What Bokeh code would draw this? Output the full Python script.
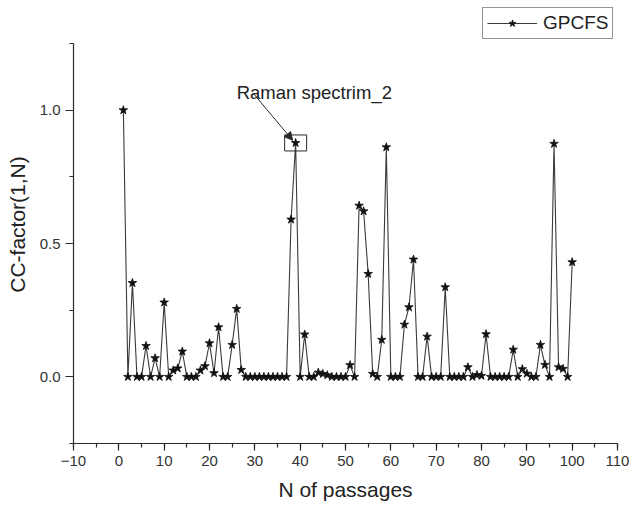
from bokeh.plotting import figure
from bokeh.models import (Range1d, SingleIntervalTicker, PrintfTickFormatter, Legend,
                          LegendItem, Arrow, NormalHead, Label)
from bokeh.embed import file_html
from bokeh.resources import INLINE

# ---- data ----
passages = list(range(1, 101))
cc_factor = [
    1.0, 0.0, 0.352, 0.0, 0.0, 0.116, 0.0, 0.07, 0.0, 0.279,
    0.0, 0.024, 0.032, 0.095, 0.0, 0.0, 0.0, 0.024, 0.04, 0.126,
    0.014, 0.186, 0.0, 0.0, 0.12, 0.255, 0.026, 0.0, 0.0, 0.0,
    0.0, 0.0, 0.0, 0.0, 0.0, 0.0, 0.0, 0.59, 0.877, 0.0,
    0.159, 0.0, 0.0, 0.016, 0.011, 0.006, 0.0, 0.0, 0.0, 0.0,
    0.044, 0.0, 0.642, 0.621, 0.386, 0.011, 0.0, 0.139, 0.861, 0.0,
    0.0, 0.0, 0.196, 0.261, 0.44, 0.0, 0.0, 0.151, 0.0, 0.0,
    0.0, 0.336, 0.0, 0.0, 0.0, 0.0, 0.036, 0.0, 0.007, 0.004,
    0.16, 0.0, 0.0, 0.0, 0.0, 0.0, 0.102, 0.0, 0.029, 0.012,
    0.0, 0.0, 0.12, 0.045, 0.0, 0.874, 0.036, 0.03, 0.0, 0.43,
]
series_name = "GPCFS"
x_label = "N of passages"
y_label = "CC-factor(1,N)"
note_text = "Raman spectrim_2"
note_index = 39  # highlighted passage
y_axis_bounds = (-0.25, 1.25)

FONT = "Liberation Sans"
INK = "#2a2a2a"

# frame extends above the y axis so the legend can sit over it
p = figure(width=630, height=508, output_backend="svg", toolbar_location=None,
           x_range=Range1d(-10, 110), y_range=Range1d(-0.25, 1.3925),
           min_border_left=73, min_border_right=13, min_border_top=5,
           min_border_bottom=65)
p.outline_line_color = None
p.grid.visible = False
p.background_fill_color = "white"
p.border_fill_color = "white"

ln = p.line(passages, cc_factor, line_color="#3a3a3a", line_width=1.1)
sc = p.scatter(passages, cc_factor, marker="star", size=9,
               fill_color="#111111", line_color="#111111", line_width=0.8)

# axes
for ax in (p.xaxis[0], p.yaxis[0]):
    ax.axis_line_color = INK
    ax.axis_line_width = 1.2
    ax.major_tick_line_color = INK
    ax.minor_tick_line_color = INK
    ax.major_tick_line_width = 1.2
    ax.minor_tick_line_width = 1.2
    ax.major_tick_in = 0
    ax.minor_tick_in = 0
    ax.major_label_text_font = FONT
    ax.major_label_text_font_size = "15px"
    ax.major_label_text_color = "#333333"
    ax.axis_label_text_font = FONT
    ax.axis_label_text_font_size = "21px"
    ax.axis_label_text_font_style = "normal"
    ax.axis_label_text_color = "#222222"

p.yaxis.bounds = y_axis_bounds
p.xaxis.ticker = SingleIntervalTicker(interval=10, num_minor_ticks=2)
p.yaxis.ticker = SingleIntervalTicker(interval=0.5, num_minor_ticks=2)
p.yaxis.formatter = PrintfTickFormatter(format="%.1f")
p.xaxis.major_tick_out = 7
p.xaxis.minor_tick_out = 4
p.yaxis.major_tick_out = 8
p.yaxis.minor_tick_out = 4
p.xaxis.major_label_standoff = 5
p.yaxis.major_label_standoff = 5
p.xaxis.axis_label = x_label
p.yaxis.axis_label = y_label
p.xaxis.axis_label_standoff = 9
p.yaxis.axis_label_standoff = 8

# annotation: box around highlighted point, arrow and text
hx = passages[note_index - 1]
hy = cc_factor[note_index - 1]
p.rect(x=[hx], y=[hy], width=22, height=16, width_units="screen",
       height_units="screen", fill_color=None, line_color=INK, line_width=1)
p.add_layout(Arrow(end=NormalHead(size=8, fill_color=INK, line_color=INK),
                   x_start=hx - 9.3, y_start=hy + 0.185,
                   x_end=hx - 0.65, y_end=hy + 0.01,
                   line_color=INK, line_width=1))
p.add_layout(Label(x=hx - 13.0, y=hy + 0.19, text=note_text,
                   text_font=FONT, text_font_size="18.5px", text_color="#222222",
                   text_baseline="alphabetic"))

legend = Legend(items=[LegendItem(label=series_name, renderers=[ln, sc])],
                location=(409, 404), glyph_width=50, glyph_height=18,
                label_height=18, label_standoff=6, padding=4, margin=0, spacing=0,
                label_text_font=FONT, label_text_font_size="19px",
                label_text_color="#222222",
                border_line_color=INK, border_line_width=1,
                background_fill_color="white", background_fill_alpha=1.0)
p.add_layout(legend)

open("out.html", "w").write(file_html(p, INLINE))
